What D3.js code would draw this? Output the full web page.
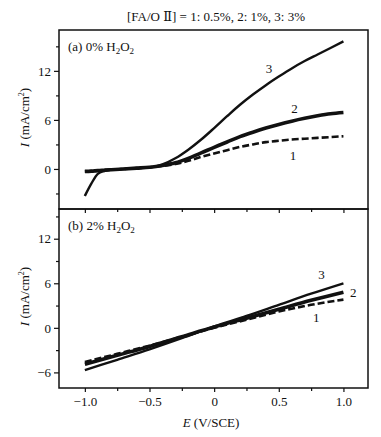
<!DOCTYPE html>
<html lang="en">
<head>
  <meta charset="UTF-8" />
  <title>Polarization curves</title>
  <script src="https://cdn.jsdelivr.net/npm/d3@7/dist/d3.min.js"></script>
  <style>
    body { margin: 0; background: #fff; }
    svg text { font-family: "Liberation Serif", "Times New Roman", "DejaVu Serif", serif; fill: #111; }
  </style>
</head>
<body>
  <div id="chart"></div>
  <script>
    // panel (a) 0% H2O2 : potential (V/SCE) and current density (mA/cm2)
    const aE = [-1.0, -0.95, -0.9, -0.85, -0.8, -0.7, -0.6, -0.5, -0.45, -0.4, -0.3, -0.2, -0.1, 0, 0.1, 0.2, 0.3, 0.4, 0.5, 0.6, 0.7, 0.8, 0.9, 1.0];
    const aCurve1 = [-0.3, -0.27, -0.2, -0.15, -0.1, 0.0, 0.1, 0.2, 0.3, 0.38, 0.6, 1.0, 1.47, 1.9, 2.3, 2.7, 3.0, 3.28, 3.45, 3.6, 3.7, 3.8, 3.9, 4.0];
    const aCurve2 = [-0.3, -0.27, -0.2, -0.15, -0.1, 0.0, 0.1, 0.2, 0.3, 0.42, 0.75, 1.3, 1.96, 2.65, 3.3, 3.95, 4.5, 5.0, 5.45, 5.85, 6.2, 6.5, 6.75, 6.9];
    const aCurve3 = [-3.3, -1.8, -0.6, -0.25, -0.1, 0.0, 0.1, 0.2, 0.32, 0.55, 1.3, 2.35, 3.6, 5.0, 6.45, 7.85, 9.1, 10.25, 11.3, 12.3, 13.2, 14.0, 14.8, 15.6];

    // panel (b) 2% H2O2
    const bE = [-1.0, -0.75, -0.5, -0.25, 0, 0.25, 0.5, 0.75, 1.0];
    const bCurve1 = [-4.6, -3.5, -2.4, -1.2, 0.0, 1.1, 2.2, 3.1, 3.8];
    const bCurve2 = [-4.9, -3.7, -2.5, -1.2, 0.1, 1.3, 2.5, 3.7, 4.8];
    const bCurve3 = [-5.7, -4.3, -2.9, -1.4, 0.2, 1.6, 3.1, 4.6, 6.0];

    const xTicks = [-1.0, -0.5, 0, 0.5, 1.0];
    const xMinor = [-0.75, -0.25, 0.25, 0.75];
    const aYTicks = [0, 6, 12];
    const bYTicks = [-6, 0, 6, 12];
    const yMinor = [-3, 3, 9, 15];

    const W = 381, H = 437;
    const left = 59, right = 368;

    const svg = d3.select("#chart").append("svg")
      .attr("width", W).attr("height", H);

    const x = d3.scaleLinear().domain([-1.2, 1.19]).range([left, right]);

    svg.append("text")
      .attr("x", 216).attr("y", 21)
      .attr("text-anchor", "middle")
      .style("font-size", "13px")
      .text("[FA/O Ⅱ] = 1: 0.5%, 2: 1%, 3: 3%");

    function panel(top, bottom, yDomain, yTicks, E, curves, labels, tag, showX) {
      const y = d3.scaleLinear().domain(yDomain).range([bottom, top]);
      const g = svg.append("g");

      // axes, ticks point outward
      const yAxis = d3.axisLeft(y).tickValues(yTicks).tickSize(5).tickPadding(3)
        .tickFormat(d => d < 0 ? "\u2212" + Math.abs(d) : d);
      g.append("g").attr("transform", `translate(${left},0)`).call(yAxis)
        .call(s => s.select(".domain").remove());
      g.append("g").attr("transform", `translate(${left},0)`)
        .call(d3.axisLeft(y).tickValues(yMinor.filter(v => v > yDomain[0] && v < yDomain[1])).tickSize(3).tickFormat(""))
        .call(s => s.select(".domain").remove());

      const xAxis = d3.axisBottom(x).tickValues(xTicks).tickSize(4).tickPadding(5)
        .tickFormat(d => d === 0 ? "0" : (d < 0 ? "\u2212" : "") + Math.abs(d).toFixed(1));
      const xg = g.append("g").attr("transform", `translate(0,${bottom})`).call(xAxis)
        .call(s => s.select(".domain").remove());
      g.append("g").attr("transform", `translate(0,${bottom})`)
        .call(d3.axisBottom(x).tickValues(xMinor).tickSize(3).tickFormat(""))
        .call(s => s.select(".domain").remove());
      if (!showX) xg.selectAll("text").remove();

      g.selectAll(".tick line").attr("stroke", "#111").attr("stroke-width", 1.2);
      g.selectAll(".tick text").style("font-size", "13px")
        .style("font-family", "'Liberation Serif', 'Times New Roman', serif").attr("fill", "#111");

      g.append("rect")
        .attr("x", left).attr("y", top)
        .attr("width", right - left).attr("height", bottom - top)
        .attr("fill", "none").attr("stroke", "#111").attr("stroke-width", 1.5);

      const line = d3.line().x((d, i) => x(E[i])).y(d => y(d)).curve(d3.curveMonotoneX);
      const styles = [
        { w: 2.6, dash: "7,3" },
        { w: 3.6, dash: null },
        { w: 2.4, dash: null }
      ];
      curves.forEach((c, k) => {
        g.append("path").datum(c)
          .attr("d", line)
          .attr("fill", "none").attr("stroke", "#111")
          .attr("stroke-width", styles[k].w)
          .attr("stroke-dasharray", styles[k].dash);
      });

      labels.forEach(l => {
        g.append("text").attr("x", x(l.e)).attr("y", y(l.i))
          .attr("text-anchor", "middle").style("font-size", "13px").text(l.t);
      });

      const t = g.append("text").attr("x", 68).attr("y", top + 21).style("font-size", "13px");
      t.append("tspan").text(tag + " H");
      t.append("tspan").attr("dy", 3).style("font-size", "9px").text("2");
      t.append("tspan").attr("dy", -3).text("O");
      t.append("tspan").attr("dy", 3).style("font-size", "9px").text("2");

      const yl = g.append("text")
        .attr("transform", `translate(29,${(top + bottom) / 2 - 2}) rotate(-90)`)
        .attr("text-anchor", "middle").style("font-size", "13px");
      yl.append("tspan").style("font-style", "italic").text("I");
      yl.append("tspan").text(" (mA/cm");
      yl.append("tspan").attr("dy", -5).style("font-size", "8px").text("2");
      yl.append("tspan").attr("dy", 5).text(")");
      return y;
    }

    panel(30, 209, [-4.9, 17.0], aYTicks, aE, [aCurve1, aCurve2, aCurve3],
      [{ e: 0.424, i: 11.8, t: "3" }, { e: 0.622, i: 6.9, t: "2" }, { e: 0.61, i: 1.08, t: "1" }],
      "(a) 0%", false);

    panel(209, 388, [-8.1, 16.0], bYTicks, bE, [bCurve1, bCurve2, bCurve3],
      [{ e: 0.83, i: 6.58, t: "3" }, { e: 1.075, i: 4.1, t: "2" }, { e: 0.79, i: 0.74, t: "1" }],
      "(b) 2%", true);

    const xl = svg.append("text").attr("x", 211).attr("y", 427)
      .attr("text-anchor", "middle").style("font-size", "13px");
    xl.append("tspan").style("font-style", "italic").text("E");
    xl.append("tspan").text("  (V/SCE)");
  </script>
</body>
</html>
